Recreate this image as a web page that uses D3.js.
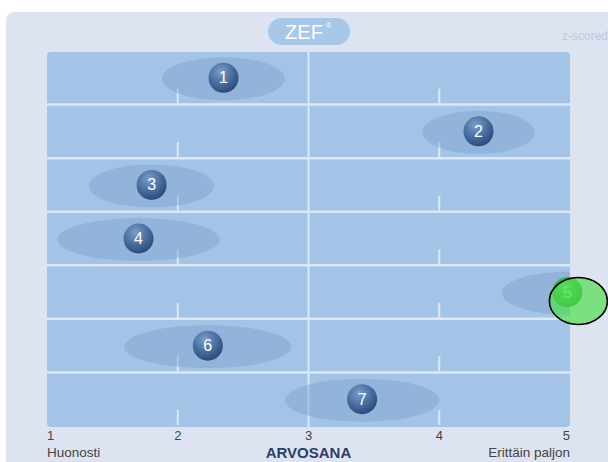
<!DOCTYPE html>
<html lang="fi">
<head>
<meta charset="UTF-8">
<title>ZEF arvosana</title>
<style>
  body { margin: 0; background: #fff; }
  svg { display: block; font-family: "Liberation Sans", Arial, sans-serif; }
</style>
</head>
<body>
<svg id="chart" width="608" height="462"></svg>
<script src="https://d3js.org/d3.v7.min.js"></script>
<script>
// one row per question, top to bottom
const questions = ['1', '2', '3', '4', '5', '6', '7'];
const means = [2.35, 4.30, 1.80, 1.70, 4.98, 2.23, 3.41];
const spreads = [0.47, 0.43, 0.48, 0.62, 0.50, 0.64, 0.59];
const highlighted = '5';
const tickValues = [1, 2, 3, 4, 5];
const lowLabel = 'Huonosti';
const highLabel = 'Erittäin paljon';
const axisTitle = 'ARVOSANA';

const W = 608, H = 462;
const plot = { left: 47, right: 570, top: 52, bottom: 427 };

const svg = d3.select('#chart');
const defs = svg.append('defs');

function ballGradient(id, light, mid, dark) {
  const g = defs.append('radialGradient').attr('id', id)
    .attr('cx', '40%').attr('cy', '30%').attr('r', '70%');
  g.append('stop').attr('offset', '0%').attr('stop-color', light);
  g.append('stop').attr('offset', '55%').attr('stop-color', mid);
  g.append('stop').attr('offset', '100%').attr('stop-color', dark);
}
ballGradient('ballBlue', '#7b9dc8', '#4a70a2', '#2c4b7a');
ballGradient('ballGreen', '#4fcf55', '#2fae38', '#23892a');

defs.append('clipPath').attr('id', 'plotClip')
  .append('rect')
  .attr('x', plot.left).attr('y', plot.top)
  .attr('width', plot.right - plot.left).attr('height', plot.bottom - plot.top);

const x = d3.scaleLinear().domain([1, 5]).range([plot.left, plot.right]);
const y = d3.scaleBand().domain(questions).range([plot.top, plot.bottom]);

// outer panel
svg.append('rect')
  .attr('x', 6).attr('y', 12).attr('width', W + 20).attr('height', H)
  .attr('rx', 8).attr('fill', '#dde3f0');

// ZEF badge
svg.append('rect')
  .attr('x', 268).attr('y', 18).attr('width', 82).attr('height', 27)
  .attr('rx', 13.5).attr('fill', '#a7c8e8');
svg.append('text')
  .attr('x', 304).attr('y', 39).attr('text-anchor', 'middle')
  .attr('font-size', 20).attr('fill', '#fff').text('ZEF');
svg.append('text')
  .attr('x', 326).attr('y', 28).attr('text-anchor', 'start')
  .attr('font-size', 7).attr('fill', '#fff').text('®');
svg.append('text')
  .attr('x', 608).attr('y', 40).attr('text-anchor', 'end')
  .attr('font-size', 12).attr('fill', '#bcc8de').text('z-scored');

// plot background
svg.append('rect')
  .attr('x', plot.left).attr('y', plot.top)
  .attr('width', plot.right - plot.left).attr('height', plot.bottom - plot.top)
  .attr('rx', 4).attr('fill', '#a4c4e7');

// row separators
svg.append('g').selectAll('line')
  .data(questions.slice(1))
  .join('line')
  .attr('x1', plot.left).attr('x2', plot.right)
  .attr('y1', d => y(d) - 1).attr('y2', d => y(d) - 1)
  .attr('stroke', '#dce8f6').attr('stroke-width', 2.5);

// middle line
svg.append('line')
  .attr('x1', x(3)).attr('x2', x(3))
  .attr('y1', plot.top).attr('y2', plot.bottom)
  .attr('stroke', '#dce8f6').attr('stroke-width', 2);

// short ticks at bottom of each row
const rowTicks = [];
questions.forEach(q => [2, 4].forEach(v => rowTicks.push({ q, v })));
svg.append('g').selectAll('line')
  .data(rowTicks)
  .join('line')
  .attr('x1', d => x(d.v)).attr('x2', d => x(d.v))
  .attr('y1', d => y(d.q) + y.bandwidth() - 17)
  .attr('y2', d => y(d.q) + y.bandwidth() - 2)
  .attr('stroke', '#dce8f6').attr('stroke-width', 2);

// spread ellipses, clipped to the plot
const rows = questions.map((q, i) => ({ q, mean: means[i], spread: spreads[i] }));
svg.append('g').attr('clip-path', 'url(#plotClip)')
  .selectAll('ellipse')
  .data(rows)
  .join('ellipse')
  .attr('cx', d => x(d.mean))
  .attr('cy', d => y(d.q) + y.bandwidth() / 2)
  .attr('rx', d => x(1 + d.spread) - x(1))
  .attr('ry', 21.5)
  .attr('fill', '#7d9fca').attr('fill-opacity', 0.45);

// balls
const balls = svg.append('g').selectAll('g')
  .data(rows)
  .join('g')
  .attr('transform', d => `translate(${x(d.mean)},${y(d.q) + y.bandwidth() / 2 - 1})`);
balls.append('circle')
  .attr('r', 15)
  .attr('fill', d => d.q === highlighted ? 'url(#ballGreen)' : 'url(#ballBlue)');
balls.append('text')
  .attr('text-anchor', 'middle').attr('dy', 5.5)
  .attr('font-size', 16)
  .attr('fill', d => d.q === highlighted ? '#a8f0a8' : '#fff')
  .text(d => d.q);

// highlight marker on the selected question
const hi = rows.find(d => d.q === highlighted);
svg.append('ellipse')
  .attr('cx', x(hi.mean) + 11)
  .attr('cy', y(hi.q) + y.bandwidth() / 2 + 8)
  .attr('rx', 29).attr('ry', 23.5)
  .attr('fill', '#55e055').attr('fill-opacity', 0.72)
  .attr('stroke', '#000').attr('stroke-width', 1.6);

// bottom axis numbers
svg.append('g').selectAll('text')
  .data(tickValues)
  .join('text')
  .attr('x', d => x(d))
  .attr('y', 440)
  .attr('text-anchor', d => d === 1 ? 'start' : d === 5 ? 'end' : 'middle')
  .attr('font-size', 13).attr('fill', '#444')
  .text(d => d);

svg.append('text')
  .attr('x', plot.left).attr('y', 457)
  .attr('font-size', 13.5).attr('fill', '#444').text(lowLabel);
svg.append('text')
  .attr('x', plot.right).attr('y', 457).attr('text-anchor', 'end')
  .attr('font-size', 13.5).attr('fill', '#444').text(highLabel);
svg.append('text')
  .attr('x', x(3)).attr('y', 458).attr('text-anchor', 'middle')
  .attr('font-size', 15).attr('font-weight', 'bold').attr('fill', '#2b3e6a')
  .text(axisTitle);
</script>
</body>
</html>
